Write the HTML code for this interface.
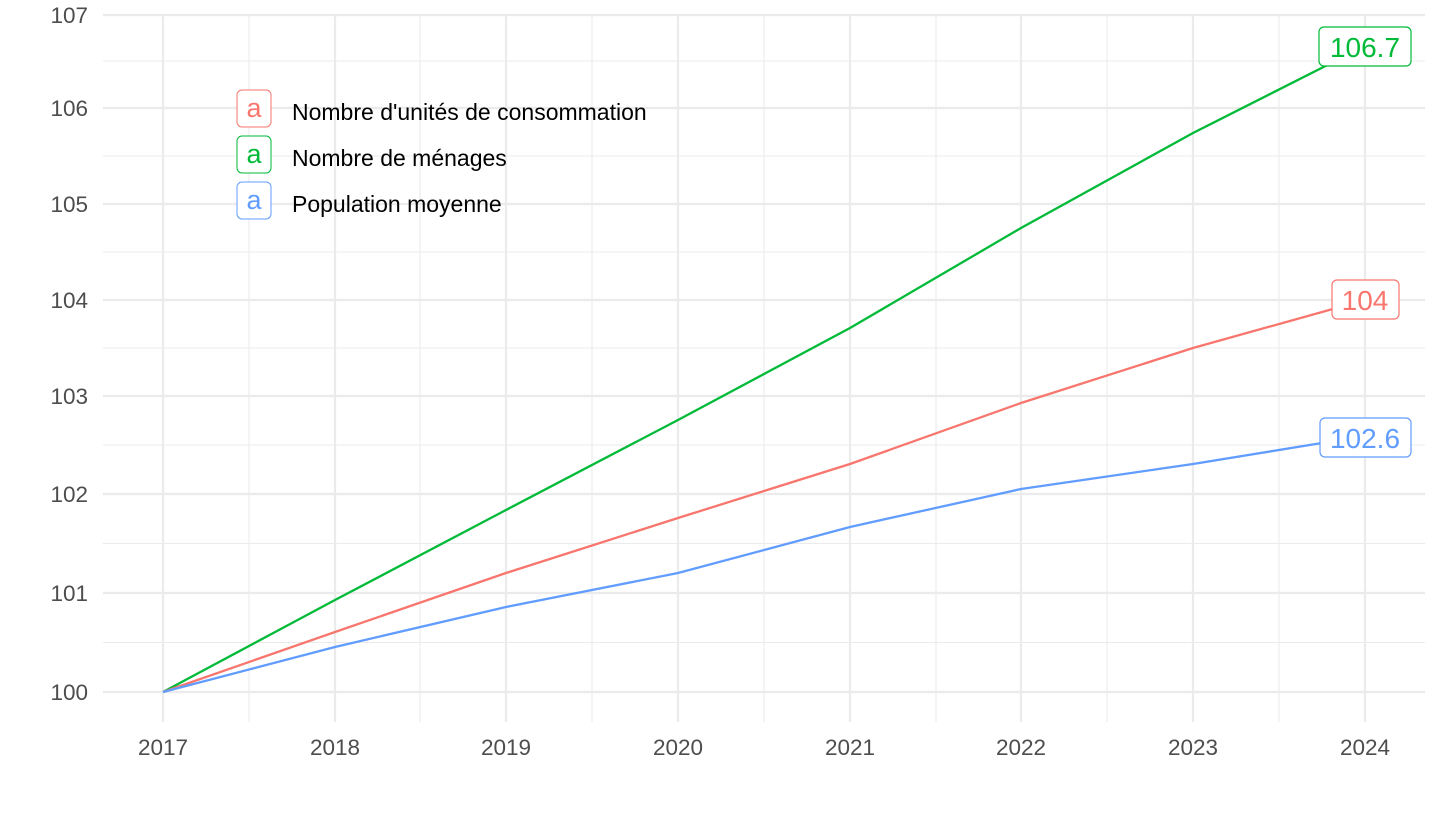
<!DOCTYPE html>
<html><head><meta charset="utf-8"><style>
body{margin:0;background:#fff;}
svg text{font-family:"Liberation Sans",Arial,sans-serif;}
</style></head><body>
<svg width="1440" height="810" xmlns="http://www.w3.org/2000/svg">
<g stroke="#ebebeb" stroke-width="1.1">
<line x1="103" x2="1425" y1="642.5" y2="642.5"/><line x1="103" x2="1425" y1="543.5" y2="543.5"/>
<line x1="103" x2="1425" y1="445" y2="445"/><line x1="103" x2="1425" y1="348" y2="348"/>
<line x1="103" x2="1425" y1="252" y2="252"/><line x1="103" x2="1425" y1="156" y2="156"/>
<line x1="103" x2="1425" y1="61" y2="61"/>
<line y1="15" y2="722" x1="249" x2="249"/><line y1="15" y2="722" x1="420" x2="420"/>
<line y1="15" y2="722" x1="592" x2="592"/><line y1="15" y2="722" x1="764" x2="764"/>
<line y1="15" y2="722" x1="936" x2="936"/><line y1="15" y2="722" x1="1107" x2="1107"/>
<line y1="15" y2="722" x1="1279" x2="1279"/>
</g>
<g stroke="#ebebeb" stroke-width="2.2">
<line x1="103" x2="1425" y1="692" y2="692"/><line x1="103" x2="1425" y1="593" y2="593"/>
<line x1="103" x2="1425" y1="494" y2="494"/><line x1="103" x2="1425" y1="396" y2="396"/>
<line x1="103" x2="1425" y1="300" y2="300"/><line x1="103" x2="1425" y1="204" y2="204"/>
<line x1="103" x2="1425" y1="108" y2="108"/><line x1="103" x2="1425" y1="15" y2="15"/>
<line y1="15" y2="722" x1="163" x2="163"/><line y1="15" y2="722" x1="335" x2="335"/>
<line y1="15" y2="722" x1="506" x2="506"/><line y1="15" y2="722" x1="678" x2="678"/>
<line y1="15" y2="722" x1="850" x2="850"/><line y1="15" y2="722" x1="1021" x2="1021"/>
<line y1="15" y2="722" x1="1193" x2="1193"/><line y1="15" y2="722" x1="1365" x2="1365"/>
</g>
<g font-size="22.5" fill="#4d4d4d" text-anchor="end">
<text x="88" y="700">100</text><text x="88" y="601">101</text><text x="88" y="502">102</text>
<text x="88" y="404">103</text><text x="88" y="308">104</text><text x="88" y="212">105</text>
<text x="88" y="116">106</text><text x="88" y="23">107</text>
</g>
<g font-size="22.5" fill="#4d4d4d" text-anchor="middle">
<text x="163" y="755">2017</text><text x="335" y="755">2018</text><text x="506" y="755">2019</text>
<text x="678" y="755">2020</text><text x="850" y="755">2021</text><text x="1021" y="755">2022</text>
<text x="1193" y="755">2023</text><text x="1365" y="755">2024</text>
</g>
<g fill="none" stroke-width="2.3">
<polyline stroke="#00ba38" points="163,692 335,600 506,510 678,420 850,328 1021,228 1193,133 1365,46"/>
<polyline stroke="#f8766d" points="163,692 335,632 506,573 678,518 850,464 1021,403 1193,348 1365,300"/>
<polyline stroke="#619cff" points="163,692 335,647 506,607 678,573 850,527 1021,489 1193,464 1365,436"/>
</g>
<g font-size="28" text-anchor="middle">
<rect x="1319" y="27" width="92" height="39" rx="5" fill="#fff" stroke="#00ba38" stroke-width="1.2"/>
<text x="1365" y="57" fill="#00ba38">106.7</text>
<rect x="1332" y="280" width="67" height="39" rx="5" fill="#fff" stroke="#f8766d" stroke-width="1.2"/>
<text x="1365" y="310" fill="#f8766d">104</text>
<rect x="1320" y="418" width="91" height="39" rx="5" fill="#fff" stroke="#619cff" stroke-width="1.2"/>
<text x="1365" y="448" fill="#619cff">102.6</text>
</g>
<g font-size="27" text-anchor="middle">
<rect x="237" y="90" width="34" height="37" rx="5" fill="#fff" stroke="#f8766d"/>
<text x="254" y="117" fill="#f8766d">a</text>
<rect x="237" y="136" width="34" height="37" rx="5" fill="#fff" stroke="#00ba38"/>
<text x="254" y="163" fill="#00ba38">a</text>
<rect x="237" y="182" width="34" height="37" rx="5" fill="#fff" stroke="#619cff"/>
<text x="254" y="209" fill="#619cff">a</text>
</g>
<g font-size="23" fill="#000">
<text x="292" y="120">Nombre d'unités de consommation</text>
<text x="292" y="166">Nombre de ménages</text>
<text x="292" y="212">Population moyenne</text>
</g>
</svg>
</body></html>
